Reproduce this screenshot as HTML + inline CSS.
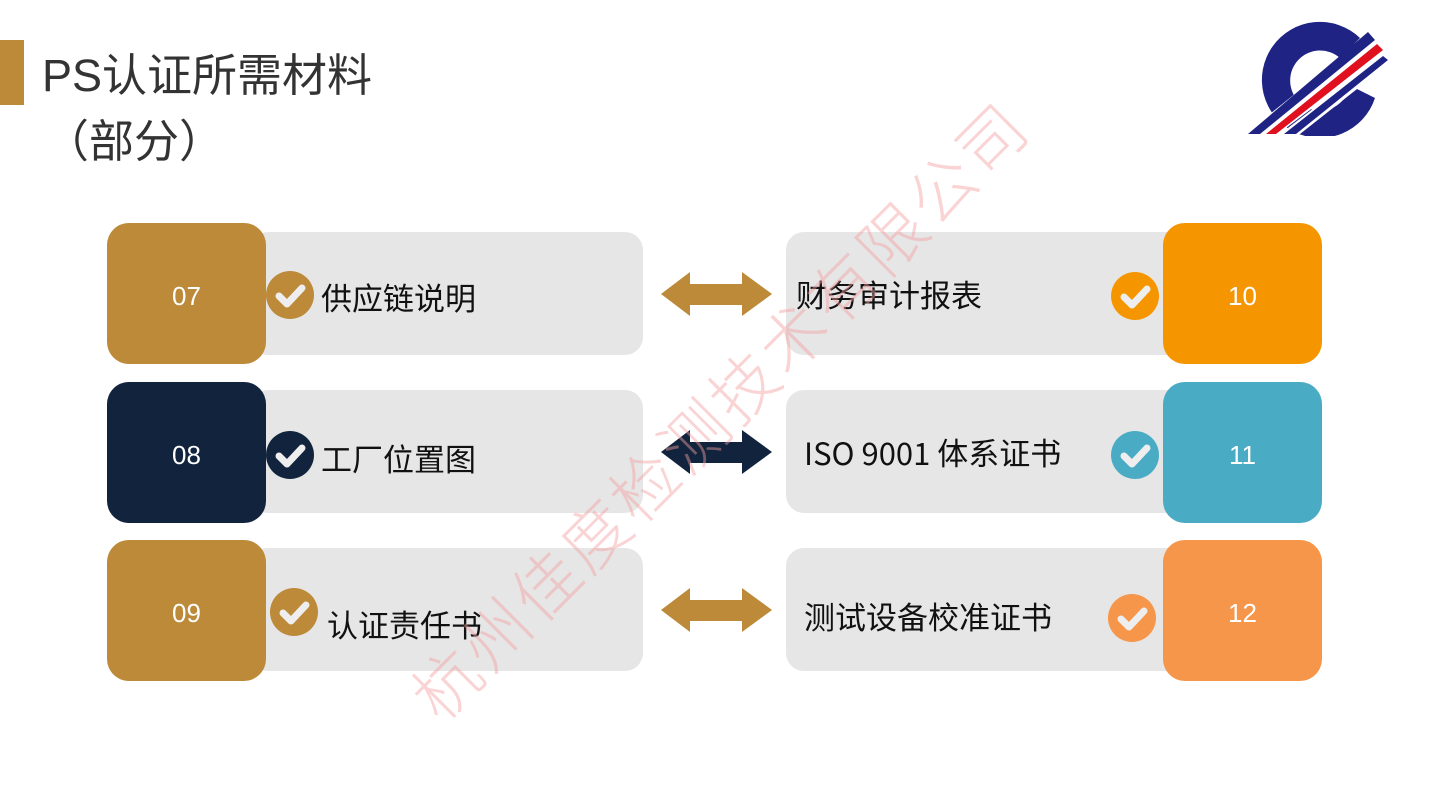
<!DOCTYPE html>
<html><head><meta charset="utf-8"><style>
body{margin:0;width:1429px;height:804px;background:#fff;position:relative;overflow:hidden;font-family:"Liberation Sans","Noto Sans CJK SC",sans-serif}
.a{position:absolute}
.gray{position:absolute;background:#e6e6e6;border-radius:18px;height:123px}
.num{position:absolute;width:159px;height:141px;border-radius:22px;color:#fff;font-size:26px;display:flex;align-items:center;justify-content:center;padding-top:6px;box-sizing:border-box}
.lbl{position:absolute;font-size:31px;color:#111;font-family:"Noto Sans CJK SC",sans-serif;font-weight:400;white-space:nowrap}
</style></head><body>
<div class="a" style="left:0;top:40px;width:24px;height:65px;background:#bc8a38"></div>
<div class="a" style="left:42px;top:50px;font-size:45px;color:#333;font-family:'Liberation Sans','Noto Sans CJK SC',sans-serif;line-height:52px;font-weight:400">PS认证所需材料</div>
<div class="a" style="left:44px;top:112px;font-size:45px;color:#333;font-family:'Noto Sans CJK SC',sans-serif;line-height:52px;font-weight:400">（部分）</div>

<svg class="a" style="left:1240px;top:18px" width="150" height="118" viewBox="0 0 150 118">
<path d="M120 20 A58 58 0 1 0 135 80 L115 70 L100 85 A30 30 0 1 1 100 40 Z" fill="#1e2384"/>
<polygon points="5,116 25,116 142,25 132,14" fill="#fff"/>
<polygon points="8,116 20,116 135,22 128,14" fill="#1e2384"/>
<polygon points="24,116 38,116 146,35 138,25" fill="#fff"/>
<polygon points="26,116 36,116 143,32 137,26" fill="#e0101e"/>
<polygon points="40,116 60,116 150,45 143,37" fill="#fff"/>
<polygon points="44,116 56,116 148,42 143,38" fill="#1e2384"/>
</svg>

<div class="gray" style="left:250px;top:232px;width:393px"></div>
<div class="gray" style="left:250px;top:390px;width:393px"></div>
<div class="gray" style="left:250px;top:548px;width:393px"></div>
<div class="gray" style="left:786px;top:232px;width:400px"></div>
<div class="gray" style="left:786px;top:390px;width:400px"></div>
<div class="gray" style="left:786px;top:548px;width:400px"></div>

<div class="num" style="left:107px;top:223px;background:#bc8a38">07</div>
<div class="num" style="left:107px;top:382px;background:#12243d">08</div>
<div class="num" style="left:107px;top:540px;background:#bc8a38">09</div>
<div class="num" style="left:1163px;top:223px;background:#f59600">10</div>
<div class="num" style="left:1163px;top:382px;background:#4aabc4">11</div>
<div class="num" style="left:1163px;top:540px;background:#f5964a">12</div>

<svg class="a" style="left:0;top:0" width="1429" height="804">
<defs><g id="ck"><path d="M-11 1 L-3 9 L12 -7" stroke="#eee" stroke-width="7" fill="none" stroke-linecap="round" stroke-linejoin="round"/></g></defs>
<circle cx="290" cy="295" r="24" fill="#bc8a38"/><use href="#ck" x="290" y="295"/>
<circle cx="290" cy="455" r="24" fill="#12243d"/><use href="#ck" x="290" y="455"/>
<circle cx="294" cy="612" r="24" fill="#bc8a38"/><use href="#ck" x="294" y="612"/>
<circle cx="1135" cy="296" r="24" fill="#f59600"/><use href="#ck" x="1135" y="296"/>
<circle cx="1135" cy="455" r="24" fill="#4aabc4"/><use href="#ck" x="1135" y="455"/>
<circle cx="1132" cy="618" r="24" fill="#f5964a"/><use href="#ck" x="1132" y="618"/>
<polygon points="661,294 690,272 690,284 742,284 742,272 772,294 742,316 742,305 690,305 690,316" fill="#bc8a38"/>
<polygon points="661,452 690,430 690,442 742,442 742,430 772,452 742,474 742,463 690,463 690,474" fill="#12243d"/>
<polygon points="661,610 690,588 690,600 742,600 742,588 772,610 742,632 742,621 690,621 690,632" fill="#bc8a38"/>
</svg>

<div class="lbl" style="left:321px;top:274px">供应链说明</div>
<div class="lbl" style="left:321px;top:435px">工厂位置图</div>
<div class="lbl" style="left:327px;top:601px">认证责任书</div>
<div class="lbl" style="left:796px;top:271px">财务审计报表</div>
<div class="lbl" style="left:804px;top:429px">ISO 9001 体系证书</div>
<div class="lbl" style="left:804px;top:593px">测试设备校准证书</div>

<div class="a" style="left:718px;top:408px;width:0;height:0">
<div style="position:absolute;left:-440px;top:-40px;width:880px;text-align:center;transform:rotate(-45deg);font-size:66px;line-height:80px;color:rgba(245,160,160,0.45);font-weight:300;font-family:'Noto Sans CJK SC',sans-serif;letter-spacing:4px;white-space:nowrap">杭州佳度检测技术有限公司</div>
</div>
</body></html>
